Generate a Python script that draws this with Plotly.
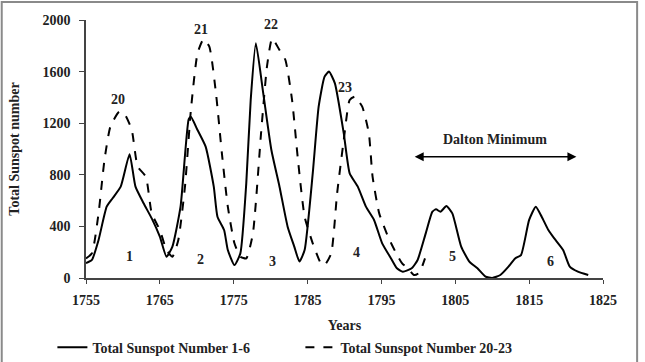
import plotly.graph_objects as go

years_a = [1755, 1755.8, 1756.7, 1757.8, 1758.6, 1759.7, 1760.9, 1761.7, 1762.8, 1763.9, 1765.0, 1765.9,
           1766.7, 1767.8, 1768.9, 1769.2, 1770.1, 1771.2, 1772.3, 1772.8, 1773.7, 1774.2, 1775.1, 1775.9,
           1776.7, 1777.3, 1778.0, 1779.0, 1780.1, 1781.2, 1782.3, 1783.2, 1783.9, 1784.6, 1785.7, 1786.5,
           1787.3, 1787.9, 1788.7, 1789.9, 1790.7, 1791.8, 1792.9, 1794.0, 1795.1, 1796.3, 1797.1, 1797.9,
           1799.1, 1799.9, 1801.0, 1801.9, 1802.4, 1803.0, 1803.8, 1804.6, 1805.8, 1806.9, 1808.0, 1809.1,
           1810.0, 1811.1, 1812.2, 1813.1, 1813.9, 1815.0, 1815.9, 1816.7, 1817.6, 1818.4, 1819.6, 1820.5,
           1821.6, 1823.0]
ssn_1_6 = [115, 140, 295, 553, 618, 708, 960, 708, 579, 462, 320, 165,
           243, 553, 1230, 1250, 1147, 1018, 708, 475, 372, 217, 100, 191,
           734, 1380, 1819, 1431, 992, 708, 398, 243, 127, 217, 811, 1328,
           1561, 1600, 1509, 1121, 811, 708, 553, 450, 269, 152, 75, 49,
           75, 140, 346, 514, 532, 514, 558, 501, 243, 127, 75, 10,
           0, 23, 88, 152, 178, 450, 553, 475, 372, 307, 217, 88,
           49, 23]

years_b = [1755, 1755.8, 1756.7, 1757.5, 1758.3, 1759.5, 1760.3, 1761.2, 1762.0, 1763.1, 1763.9, 1765.0,
           1765.9, 1766.7, 1767.5, 1768.4, 1769.2, 1770.1, 1770.9, 1771.7, 1772.6, 1773.4, 1774.2, 1775.1,
           1775.9, 1776.7, 1777.6, 1778.7, 1779.5, 1780.2, 1781.2, 1782.0, 1782.9, 1783.7, 1784.6, 1785.7,
           1786.8, 1787.3, 1788.2, 1789.0, 1789.9, 1790.7, 1791.4, 1792.4, 1793.3, 1793.8, 1794.7, 1795.9,
           1797.0, 1797.8, 1798.6, 1799.4, 1800.0, 1800.5, 1800.9]
ssn_20_23 = [152, 191, 501, 915, 1173, 1289, 1264, 1147, 863, 786, 501, 372,
             217, 165, 295, 708, 1302, 1742, 1850, 1793, 1431, 966, 553, 269,
             165, 152, 346, 1121, 1638, 1858, 1767, 1690, 1380, 915, 475, 269,
             114, 100, 191, 656, 1070, 1380, 1406, 1328, 1121, 786, 501, 320,
             191, 114, 75, 23, 36, 88, 152]

cycle_labels = ["20", "21", "22", "23", "1", "2", "3", "4", "5", "6"]
cycle_x = [1759.3, 1770.6, 1780.0, 1790.0, 1760.9, 1770.5, 1780.2, 1791.6, 1804.6, 1817.9]
cycle_y = [1380, 1930, 1965, 1480, 165, 140, 127, 199, 170, 127]

x_ticks = [1755, 1765, 1775, 1785, 1795, 1805, 1815, 1825]
y_ticks = [0, 400, 800, 1200, 1600, 2000]

FONT = "Liberation Serif, Times New Roman, Times, serif"

fig = go.Figure()
fig.add_trace(go.Scatter(x=years_a, y=ssn_1_6, mode="lines", name="<b>Total Sunspot Number 1-6</b>",
                         line=dict(color="black", width=2, shape="spline", smoothing=0.5)))
fig.add_trace(go.Scatter(x=years_b, y=ssn_20_23, mode="lines", name="<b>Total Sunspot Number 20-23</b>",
                         line=dict(color="black", width=2, dash="dash", shape="spline", smoothing=0.5)))

for t, xv, yv in zip(cycle_labels, cycle_x, cycle_y):
    fig.add_annotation(x=xv, y=yv, text=f"<b>{t}</b>", showarrow=False,
                       font=dict(family=FONT, size=14, color="#222"))

fig.add_annotation(x=1810.4, y=1070, text="<b>Dalton Minimum</b>", showarrow=False,
                   font=dict(family=FONT, size=14, color="#222"))
fig.add_annotation(x=1821.4, y=940, ax=1799.3, ay=940, xref="x", yref="y", axref="x", ayref="y",
                   text="", showarrow=True, arrowhead=2, startarrowhead=2, arrowside="end+start",
                   arrowwidth=1.5, arrowsize=1.2, startarrowsize=1.2, arrowcolor="black")

fig.add_shape(type="rect", xref="paper", yref="paper", x0=-0.163, x1=1.066, y0=-0.37, y1=1.07,
              line=dict(color="#8a8a8a", width=2), fillcolor="rgba(0,0,0,0)", layer="below")

fig.update_layout(
    width=645, height=362,
    margin=dict(l=86, r=42, t=20, b=84, autoexpand=False),
    paper_bgcolor="white", plot_bgcolor="white",
    font=dict(family=FONT, size=14, color="#222"),
    showlegend=True,
    legend=dict(orientation="h", x=-0.065, y=-0.27, xanchor="left", yanchor="middle",
                entrywidth=203, entrywidthmode="pixels", font=dict(family=FONT, size=14, color="#222"),
                itemwidth=30, tracegroupgap=0, bgcolor="rgba(0,0,0,0)"),
    xaxis=dict(range=[1755, 1825], tickvals=x_ticks, ticktext=[f"<b>{v}</b>" for v in x_ticks],
               showgrid=False, zeroline=False, showline=True, linecolor="#444", linewidth=1.5,
               ticks="outside", ticklen=4, tickcolor="#444", ticklabelstandoff=4, automargin=False,
               title=dict(text="<b>Years</b>", standoff=14, font=dict(family=FONT, size=14))),
    yaxis=dict(range=[0, 2000], tickvals=y_ticks, ticktext=[f"<b>{v}</b>" for v in y_ticks],
               showgrid=False, zeroline=False, showline=True, linecolor="#444", linewidth=1.5,
               ticks="outside", ticklen=5, tickcolor="#444", ticklabelstandoff=6, automargin=False,
               title=dict(text="<b>Total Sunspot number</b>", standoff=20, font=dict(family=FONT, size=14))),
)

fig.write_html("out.html")
